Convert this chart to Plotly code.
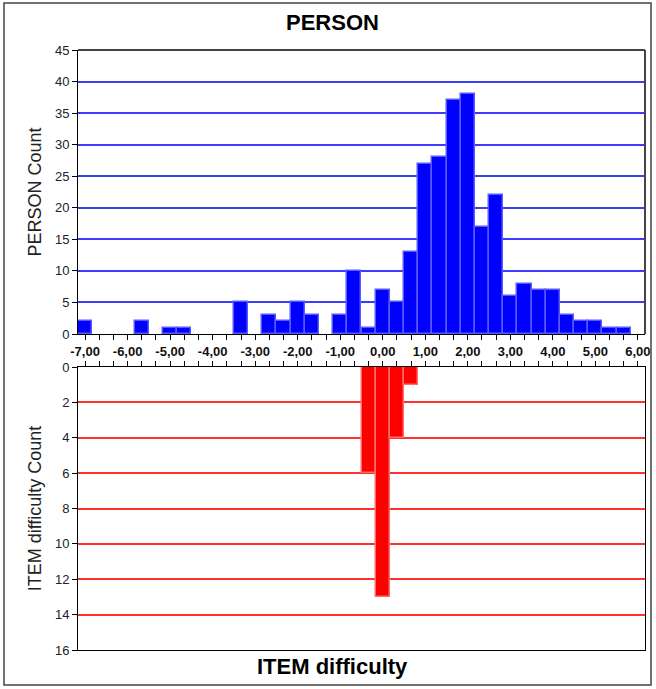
import plotly.graph_objects as go

# ---- data ----
person_bin_centers = [-7.0, -5.667, -5.0, -4.667, -3.333, -2.667, -2.333, -2.0, -1.667,
                      -1.0, -0.667, -0.333, 0.0, 0.333, 0.667, 1.0, 1.333, 1.667, 2.0,
                      2.333, 2.667, 3.0, 3.333, 3.667, 4.0, 4.333, 4.667, 5.0, 5.333, 5.667]
person_counts = [2, 2, 1, 1, 5, 3, 2, 5, 3,
                 3, 10, 1, 7, 5, 13, 27, 28, 37, 38,
                 17, 22, 6, 8, 7, 7, 3, 2, 2, 1, 1]
item_bin_centers = [-0.333, 0.0, 0.333, 0.667]
item_counts = [6, 13, 4, 1]
bin_width = 1 / 3
x_tick_values = [-7, -6, -5, -4, -3, -2, -1, 0, 1, 2, 3, 4, 5, 6]
x_tick_labels = ["-7,00", "-6,00", "-5,00", "-4,00", "-3,00", "-2,00", "-1,00",
                 "0,00", "1,00", "2,00", "3,00", "4,00", "5,00", "6,00"]

W, H = 656, 689
def px(x):
    return x / W
def py(y):
    return 1 - y / H

FONT = "Liberation Sans, Arial, sans-serif"
XL, XR = 78, 645
TOP_T, TOP_B = 50, 334
BOT_T, BOT_B = 367, 650
x_range = [-7 - 1 / 6, 6 + 1 / 6]

fig = go.Figure()
fig.add_trace(go.Bar(
    x=person_bin_centers, y=person_counts, width=bin_width, name="PERSON",
    marker=dict(color="#0000ff", line=dict(color="#5858ff", width=1.5)),
    xaxis="x", yaxis="y"))
fig.add_trace(go.Bar(
    x=item_bin_centers, y=item_counts, width=bin_width, name="ITEM difficulty",
    marker=dict(color="#ff0000", line=dict(color="#ff6a6a", width=1.5)),
    xaxis="x2", yaxis="y2"))

minor = dict(tickmode="linear", tick0=-7, dtick=1 / 3, ticks="outside", ticklen=5,
             tickcolor="#000", tickwidth=1, showgrid=False)

fig.update_layout(
    width=W, height=H, margin=dict(l=0, r=0, t=0, b=0, autoexpand=False),
    paper_bgcolor="white", plot_bgcolor="white", showlegend=False,
    bargap=0, font=dict(family=FONT, color="#222"),
    xaxis=dict(domain=[px(XL), px(XR)], anchor="y", range=x_range, automargin=False,
               tickmode="array", tickvals=x_tick_values, ticktext=x_tick_labels,
               ticks="outside", ticklen=5, tickcolor="#000",
               tickfont=dict(size=13, color="#111", weight="bold"),
               showline=True, linecolor="#000", linewidth=1, showgrid=False,
               zeroline=False, minor=minor),
    yaxis=dict(domain=[py(TOP_B), py(TOP_T)], anchor="x", range=[0, 45], automargin=False,
               tickmode="linear", tick0=0, dtick=5, ticks="outside", ticklen=5,
               tickcolor="#000", tickfont=dict(size=13, color="#222"),
               showline=True, linecolor="#000", linewidth=1,
               showgrid=True, gridcolor="#3c3cff", gridwidth=1.5, zeroline=False,
               title=dict(text="PERSON Count", font=dict(size=18, color="#222"),
                          standoff=8)),
    xaxis2=dict(domain=[px(XL), px(XR)], anchor="y2", range=x_range, side="top",
                automargin=False,
                tickmode="array", tickvals=x_tick_values, showticklabels=False,
                ticks="outside", ticklen=5, tickcolor="#000",
                showline=True, mirror=True, linecolor="#000", linewidth=1,
                showgrid=False, zeroline=False, minor=minor),
    yaxis2=dict(domain=[py(BOT_B), py(BOT_T)], anchor="x2", range=[16, 0],
                automargin=False,
                tickmode="linear", tick0=0, dtick=2, ticks="outside", ticklen=5,
                tickcolor="#000", tickfont=dict(size=13, color="#222"),
                showline=True, mirror=True, linecolor="#000", linewidth=1,
                showgrid=True, gridcolor="#ff3030", gridwidth=1.5, zeroline=False,
                title=dict(text="ITEM difficulty Count", font=dict(size=18, color="#222"),
                           standoff=8)),
    shapes=[
        dict(type="line", xref="paper", yref="paper", x0=px(XL), x1=px(XR),
             y0=py(TOP_T), y1=py(TOP_T), line=dict(color="#444", width=2)),
        dict(type="line", xref="paper", yref="paper", x0=px(XR), x1=px(XR),
             y0=py(TOP_T), y1=py(TOP_B), line=dict(color="#444", width=2)),
        dict(type="rect", xref="paper", yref="paper", x0=px(4), x1=px(651),
             y0=py(685), y1=py(3), line=dict(color="#444", width=1.5)),
    ],
    annotations=[
        dict(text="PERSON", xref="paper", yref="paper", x=px(333), y=py(23),
             xanchor="center", yanchor="middle",
             showarrow=False, font=dict(size=22, color="#000", weight="bold")),
        dict(text="ITEM difficulty", xref="paper", yref="paper", x=px(333), y=py(666),
             xanchor="center", yanchor="middle",
             showarrow=False, font=dict(size=22, color="#000", weight="bold")),
    ],
)

fig.write_html("out.html", config={"displayModeBar": False},
               post_script="document.body.style.margin='0';document.body.style.overflow='hidden';")
